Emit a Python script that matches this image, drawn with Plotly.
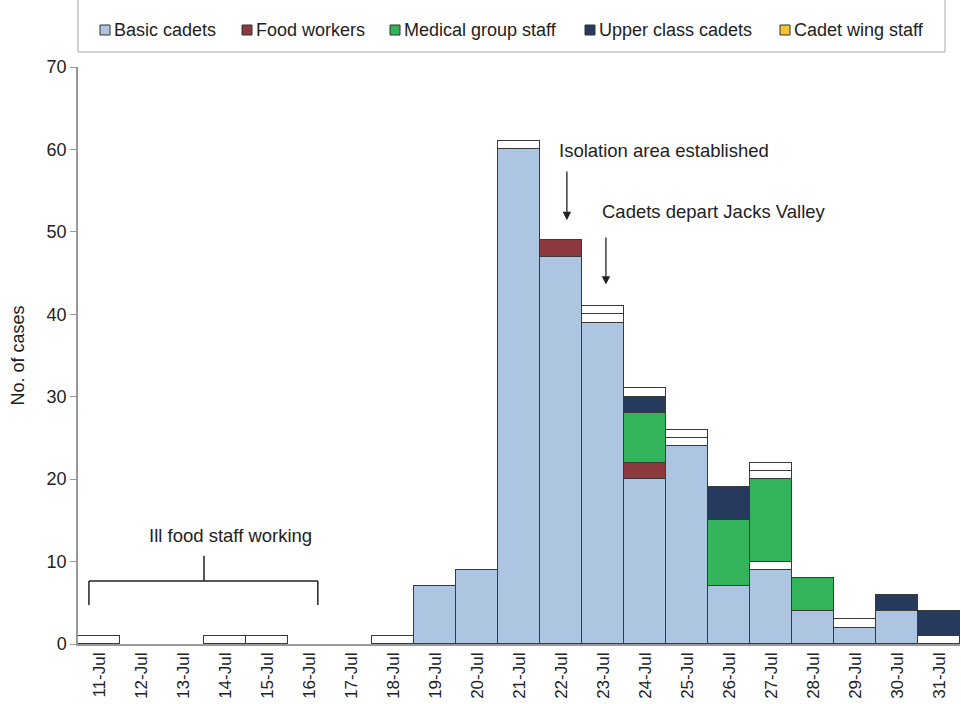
# stacked epi curve, cases by onset date and group
import plotly.graph_objects as go

days = [f'{d}-Jul' for d in range(11, 32)]

# counts per day, 11-Jul .. 31-Jul
basic_cadets = [0, 0, 0, 0, 0, 0, 0, 0, 7, 9, 60, 47, 39, 20, 24, 7, 9, 4, 2, 4, 0]
food_workers = [0, 0, 0, 0, 0, 0, 0, 0, 0, 0, 0, 2, 0, 2, 0, 0, 0, 0, 0, 0, 0]
medical_staff = [0, 0, 0, 0, 0, 0, 0, 0, 0, 0, 0, 0, 0, 6, 0, 8, 10, 4, 0, 0, 0]
upper_cadets = [0, 0, 0, 0, 0, 0, 0, 0, 0, 0, 0, 0, 0, 2, 0, 4, 0, 0, 0, 2, 3]
cadet_wing_staff = [0] * 21
# unclassified single cases drawn as white boxes, split by their place in the stack
other_bottom = [0, 0, 0, 0, 0, 0, 0, 0, 0, 0, 0, 0, 0, 0, 0, 0, 0, 0, 0, 0, 1]
other_middle = [0, 0, 0, 0, 0, 0, 0, 0, 0, 0, 0, 0, 0, 0, 0, 0, 1, 0, 0, 0, 0]
other_top1 = [1, 0, 0, 1, 1, 0, 0, 1, 0, 0, 1, 0, 1, 1, 1, 0, 1, 0, 1, 0, 0]
other_top2 = [0, 0, 0, 0, 0, 0, 0, 0, 0, 0, 0, 0, 1, 0, 1, 0, 1, 0, 0, 0, 0]

groups = ['Basic cadets', 'Food workers', 'Medical group staff',
          'Upper class cadets', 'Cadet wing staff']
colors = ['#adc5e0', '#8c3a3f', '#33b45a', '#263a5e', '#f8c12e']


def nz(vals):
    # zero-height bars would still draw an outline, so blank them
    return [v if v else None for v in vals]


edge = dict(color='#3a3a3a', width=1.4)
fig = go.Figure()


def add(vals, name, color):
    fig.add_trace(go.Bar(x=days, y=nz(vals), name=name, showlegend=False,
                         marker=dict(color=color, line=edge)))


add(other_bottom, 'other', 'white')
add(basic_cadets, groups[0], colors[0])
add(other_middle, 'other', 'white')
add(food_workers, groups[1], colors[1])
add(medical_staff, groups[2], colors[2])
add(upper_cadets, groups[3], colors[3])
add(cadet_wing_staff, groups[4], colors[4])
add(other_top1, 'other', 'white')
add(other_top2, 'other', 'white')

txt = '#222222'

# arrows for events
for hx, hy, ty in [(11.14, 51.4, 57.5), (12.07, 43.6, 49.5)]:
    fig.add_annotation(x=hx, y=hy, ax=hx, ay=ty, xref='x', yref='y',
                       axref='x', ayref='y', showarrow=True, arrowhead=2,
                       arrowsize=1.3, arrowwidth=1.3, arrowcolor=txt, text='')
fig.add_annotation(x=10.9, y=59.9, text='Isolation area established',
                   showarrow=False, xanchor='left', yanchor='middle',
                   font=dict(size=18.5, color=txt))
fig.add_annotation(x=11.93, y=52.5, text='Cadets depart Jacks Valley',
                   showarrow=False, xanchor='left', yanchor='middle',
                   font=dict(size=18.5, color=txt))

# bracket for ill food staff period
bk = dict(color=txt, width=1.5)
fig.add_shape(type='line', x0=-0.24, x1=5.21, y0=7.64, y1=7.64, line=bk)
fig.add_shape(type='line', x0=-0.24, x1=-0.24, y0=7.64, y1=4.73, line=bk)
fig.add_shape(type='line', x0=5.21, x1=5.21, y0=7.64, y1=4.73, line=bk)
fig.add_shape(type='line', x0=2.5, x1=2.5, y0=7.64, y1=10.7, line=bk)
fig.add_annotation(x=3.12, y=13.2, text='Ill food staff working', showarrow=False,
                   font=dict(size=18.5, color=txt))

# hand-drawn legend in a frame above the plot (paper coords, from screen px)
px_w, px_h = 882, 577


def ppx(px):
    return (px - 78) / px_w


def ppy(py):
    return (644 - py) / px_h


fig.add_shape(type='rect', xref='paper', yref='paper', x0=0, x1=ppx(945),
              y0=ppy(52), y1=ppy(-20), line=dict(color='#aaaaaa', width=1))
sq_left = [100, 242, 390, 585, 780]
for left, name, col in zip(sq_left, groups, colors):
    fig.add_shape(type='rect', xref='paper', yref='paper',
                  x0=ppx(left), x1=ppx(left + 10), y0=ppy(35), y1=ppy(25),
                  fillcolor=col, line=dict(color='#333333', width=1))
    fig.add_annotation(xref='paper', yref='paper', x=ppx(left + 12), y=ppy(30),
                       text=name, showarrow=False, xanchor='left',
                       yanchor='middle', font=dict(size=18, color=txt))

fig.update_layout(
    width=961, height=704,
    margin=dict(l=78, r=1, t=67, b=60),
    barmode='stack', bargap=0,
    showlegend=False,
    plot_bgcolor='white', paper_bgcolor='white',
    font=dict(family='Liberation Sans, Arial, sans-serif', size=17, color=txt),
    xaxis=dict(tickangle=-90, showline=True, linecolor='#999', linewidth=1.5,
               ticks='', tickfont=dict(size=17), range=[-0.5, 20.5],
               automargin=False),
    yaxis=dict(range=[0, 70], dtick=10, showgrid=False, showline=True,
               linecolor='#999', linewidth=1.5, ticks='outside', ticklen=6,
               tickcolor='#999', tickfont=dict(size=18), zeroline=False,
               automargin=False,
               title=dict(text='No. of cases', font=dict(size=18), standoff=17)),
)

# drop the default page margin so the 961x704 figure fills the window
fig.write_html("out.html", config={'displayModeBar': False},
               post_script="document.body.style.margin='0';"
                           "document.body.style.overflow='hidden';")
